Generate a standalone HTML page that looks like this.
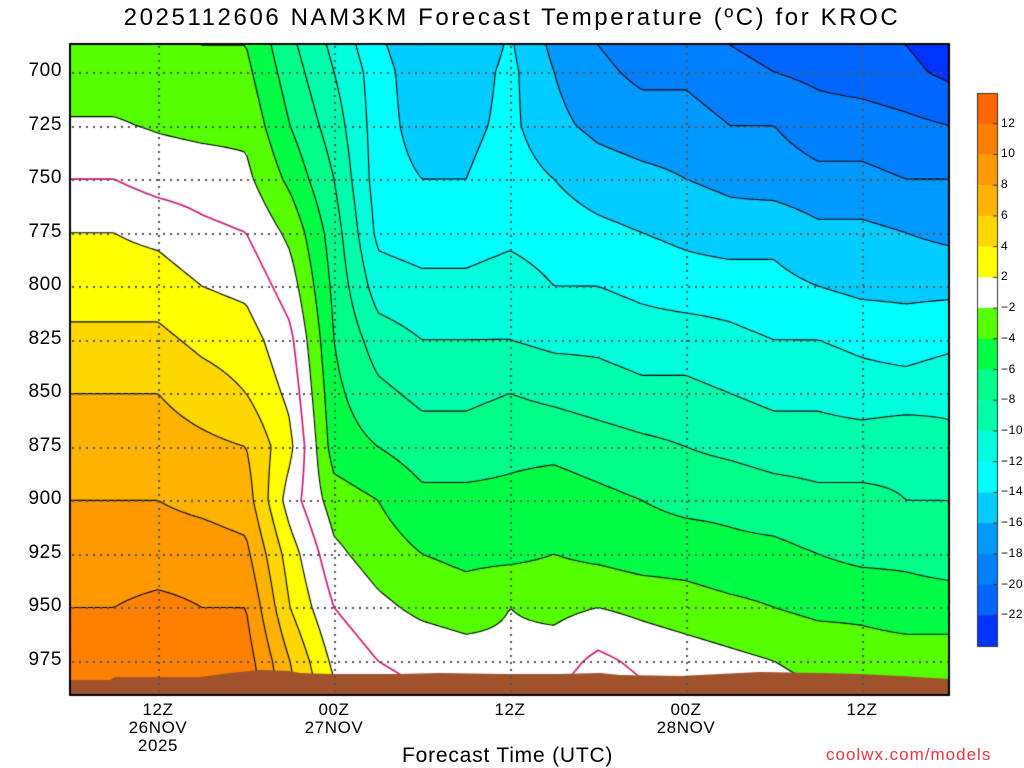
<!DOCTYPE html>
<html><head><meta charset="utf-8"><style>
body{margin:0;background:#fff;width:1024px;height:768px;overflow:hidden;font-family:"Liberation Sans",sans-serif}
#wrap{position:relative;width:1024px;height:768px}
canvas{position:absolute;left:0;top:0}
.t{position:absolute;color:#000;white-space:nowrap}
</style></head><body><div id="wrap">
<canvas id="c" width="1024" height="768"></canvas>
<div class="t" style="left:0;width:1024px;text-align:center;top:4px;font-size:24px;letter-spacing:2.6px">2025112606 NAM3KM Forecast Temperature (ºC) for KROC</div>
<div class="t" style="left:402px;top:744px;font-size:21px;letter-spacing:0.8px">Forecast Time (UTC)</div>
<div class="t" style="left:826px;top:745px;font-size:17px;color:#e8383d;letter-spacing:1px">coolwx.com/models</div>
<div id="labels"></div>
</div>
<script>
const hours=[0,3,6,9,12,15,18,21,24,27,30,33,36,39,42,45,48,51,54,57,60];
const pressures=[675,700,725,750,775,800,825,850,875,900,925,950,975,1000];
// temperature rows per pressure level (columns follow hours)
const t675=[-4,-4,-4,-4.5,-4.5,-8,-11,-14,-16.5,-16,-14,-17,-18.5,-19.5,-19.5,-20.5,-21,-21.5,-22,-22.5,-23.5];
const t700=[-3,-3,-3,-3.5,-3.5,-7,-10,-13,-15.5,-15,-13.5,-16,-17.5,-18.5,-18.5,-19.5,-20,-20.5,-21,-21.5,-22.5];
const t725=[-1.8,-1.8,-2.2,-2.5,-2.5,-6,-9,-13,-15,-14.5,-13.5,-15.5,-16.5,-17,-17,-18,-18,-19,-19,-19.5,-20];
const t750=[0,0,-0.8,-1,-1.5,-4.5,-8,-13,-14,-14,-13,-14,-15,-15.5,-16,-16.5,-17,-17.5,-17.5,-18,-18];
const t775=[2,2,1.5,0.5,0,-2.5,-7,-12.5,-13,-13,-12.5,-13,-13.5,-14,-14.5,-15,-14.5,-15.5,-15.5,-16,-16.5];
const t800=[3,3,3,2,1.5,-1,-6.5,-11,-11.5,-11.5,-11,-12,-12,-12.5,-13,-13,-13.5,-14,-14.5,-14.5,-14.5];
const t825=[4.5,4.5,4.5,3.5,3,0.5,-6,-9,-10,-10,-10,-10.5,-10.5,-11,-11,-11.5,-12,-12,-12.5,-13,-12.5];
const t850=[6,6,6,5,4,1.5,-5.5,-7.5,-8.5,-8.5,-8,-8.5,-9,-9.5,-9.5,-10,-10.5,-10.5,-11,-11,-10.5];
const t875=[7,7,7,6.5,6,2.5,-5,-6,-7,-7,-6.5,-6.5,-7,-7.5,-8,-8.5,-9,-9,-9,-8.5,-9.5];
const t900=[8,8,8,7.5,7,1,-3,-4,-5.5,-5.5,-5.5,-5,-5.5,-6,-6.5,-6.5,-7,-7.5,-7.5,-8,-8];
const t925=[9,9,9,9,8.5,3,-1.5,-3,-4,-4.5,-4.5,-4,-4.5,-5,-5,-5.5,-5.5,-6,-6.5,-6.5,-7];
const t950=[10,10,10.5,10,10,4,0,-1.5,-2.5,-3,-2,-2.5,-2,-2.5,-3,-3.5,-4,-4.5,-4.5,-5,-5];
const t975=[11,11,11,11,11,6,1.5,0,-0.5,-1,-1.5,-1,0.5,-0.5,-1,-1.5,-2,-2.5,-3,-3,-3];
const t1000=[12,12,12,12,12,7,3,1,0.5,0,0,0.5,2,1,0,-0.5,-1,-1.5,-2,-2,-2];
const grid=[t675,t700,t725,t750,t775,t800,t825,t850,t875,t900,t925,t950,t975,t1000];
const binEdges=[-22,-20,-18,-16,-14,-12,-10,-8,-6,-4,-2,2,4,6,8,10,12];
const binColors=["#0033ff","#0066ff","#0080ff","#0099ff","#00ccff","#00ffff","#00ffdd","#00ffaa","#00ff88","#00ff44","#55ff00","#ffffff","#ffff00","#ffd700","#ffb300","#ff9900","#ff8000","#ff6600"];
const cbLabels=["12","10","8","6","4","2","−2","−4","−6","−8","−10","−12","−14","−16","−18","−20","−22"];
const yTicks=[700,725,750,775,800,825,850,875,900,925,950,975];
const xTickHours=[6,18,30,42,54];
const xTickLabels=[["12Z","26NOV","2025"],["00Z","27NOV"],["12Z"],["00Z","28NOV"],["12Z"]];

const L=70,R=949,T=44,B=695;
const xOf=h=>L+h*(176/12);
const yOf=p=>72+(p-700)*(589/275);
const hOf=x=>(x-L)/(176/12);
const pOf=y=>700+(y-72)*275/589;
function val(h,p){
  let i=Math.min(hours.length-2,Math.max(0,Math.floor(h/3)));
  let fx=(h-hours[i])/(hours[i+1]-hours[i]);
  let j=Math.min(pressures.length-2,Math.max(0,Math.floor((p-675)/25)));
  let fy=(p-pressures[j])/25;
  fx=Math.max(0,Math.min(1,fx));fy=Math.max(0,Math.min(1,fy));
  const a=grid[j][i],b=grid[j][i+1],c=grid[j+1][i],d=grid[j+1][i+1];
  return a*(1-fx)*(1-fy)+b*fx*(1-fy)+c*(1-fx)*fy+d*fx*fy;
}
const cv=document.getElementById('c'),ctx=cv.getContext('2d');
const img=ctx.createImageData(R-L,B-T);
const rgb=binColors.map(c=>[parseInt(c.slice(1,3),16),parseInt(c.slice(3,5),16),parseInt(c.slice(5,7),16)]);
for(let y=0;y<B-T;y++){const p=pOf(y+T);for(let x=0;x<R-L;x++){const v=val(hOf(x+L),p);let k=0;while(k<binEdges.length&&v>=binEdges[k])k++;const c=rgb[k];const o=(y*(R-L)+x)*4;img.data[o]=c[0];img.data[o+1]=c[1];img.data[o+2]=c[2];img.data[o+3]=255;}}
ctx.putImageData(img,L,T);
const S=3;const nx=Math.ceil((R-L)/S)+1,ny=Math.ceil((B-T)/S)+1;const F=[];
for(let j=0;j<ny;j++){F.push([]);for(let i=0;i<nx;i++)F[j].push(val(hOf(L+i*S),pOf(T+j*S)));}
const levels=[-22,-20,-18,-16,-14,-12,-10,-8,-6,-4,-2,0,2,4,6,8,10,12];
ctx.save();ctx.beginPath();ctx.rect(L,T,R-L,B-T);ctx.clip();
levels.forEach(lv=>{
  ctx.beginPath();
  for(let j=0;j<ny-1;j++)for(let i=0;i<nx-1;i++){
    const v=[F[j][i],F[j][i+1],F[j+1][i+1],F[j+1][i]];
    const P=[[i,j],[i+1,j],[i+1,j+1],[i,j+1]];const pts=[];
    for(let e=0;e<4;e++){const a=v[e],b=v[(e+1)%4];if((a<lv)!==(b<lv)){const t=(lv-a)/(b-a);const pa=P[e],pb=P[(e+1)%4];pts.push([L+(pa[0]+t*(pb[0]-pa[0]))*S,T+(pa[1]+t*(pb[1]-pa[1]))*S]);}}
    for(let k=0;k+1<pts.length;k+=2){ctx.moveTo(pts[k][0],pts[k][1]);ctx.lineTo(pts[k+1][0],pts[k+1][1]);}
  }
  ctx.lineWidth=lv===0?1.6:1.1;
  ctx.strokeStyle=lv===0?"#d0106a":"#000";
  ctx.stroke();
});
ctx.fillStyle="#a0522d";ctx.beginPath();
const terr=[[70,680],[110,680],[115,677],[200,677],[230,673],[260,670],[290,671],[300,673],[330,674],[400,674],[440,673],[500,674],[560,674],[600,673],[620,675],[680,676],[720,674],[760,672],[820,673],[860,674],[900,676],[949,679]];
ctx.moveTo(70,B);terr.forEach(p=>ctx.lineTo(p[0],p[1]));ctx.lineTo(949,B);ctx.closePath();ctx.fill();
ctx.fillStyle="#555";
yTicks.forEach(p=>{const y=Math.round(yOf(p));for(let x=L+2;x<R;x+=7)ctx.fillRect(x,y,2,2);});
xTickHours.forEach(h=>{const x=Math.round(xOf(h));for(let y=T+2;y<B;y+=7)ctx.fillRect(x,y,2,2);});
ctx.restore();
ctx.strokeStyle="#000";ctx.lineWidth=2;ctx.strokeRect(L,T,R-L,B-T);
const cbT=93,cbB=646,cbX=977,cbW=20,bh=(cbB-cbT)/binColors.length;
for(let k=0;k<binColors.length;k++){ctx.fillStyle=binColors[binColors.length-1-k];ctx.fillRect(cbX,cbT+k*bh,cbW,bh+0.5);}
ctx.lineWidth=1;ctx.strokeStyle="#333";ctx.strokeRect(cbX+0.5,cbT+0.5,cbW,cbB-cbT);
const lab=document.getElementById('labels');
function addText(txt,x,y,size,name,align){const d=document.createElement('div');d.className='t';d.textContent=txt;d.style.fontSize=size+'px';d.style.top=y+'px';d.style.letterSpacing='0.6px';
 if(align==='c'){d.style.left=(x-60)+'px';d.style.width='120px';d.style.textAlign='center';}else if(align==='r'){d.style.left=(x-80)+'px';d.style.width='80px';d.style.textAlign='right';}else d.style.left=x+'px';
 
 
 lab.appendChild(d);}
cbLabels.forEach((t,k)=>{const y=cbT+(k+1)*bh;ctx.beginPath();ctx.moveTo(cbX+cbW-4,y);ctx.lineTo(cbX+cbW,y);ctx.stroke();addText(t,1001,y-8,12,'colorbar-label','l');});
yTicks.forEach(p=>addText(String(p),62,yOf(p)-12,19,'y-tick-label','r'));
xTickHours.forEach((h,k)=>{xTickLabels[k].forEach((s,m)=>addText(s,xOf(h),700+m*18,17,'x-tick-label','c'));});
</script></body></html>
